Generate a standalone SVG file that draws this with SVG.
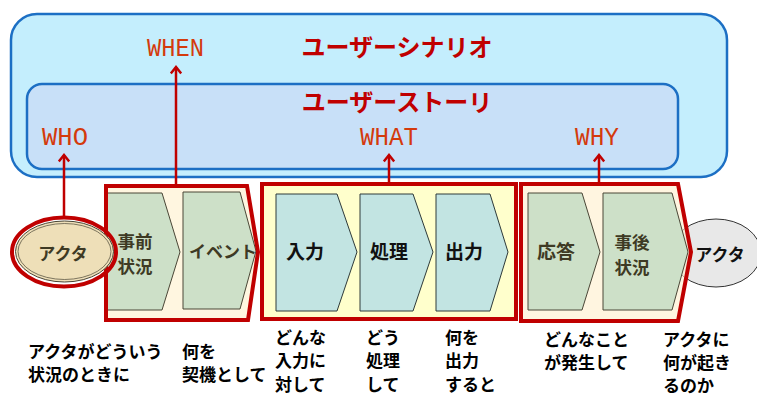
<svg xmlns="http://www.w3.org/2000/svg" width="757" height="396" viewBox="0 0 757 396">
<defs>
<style>
.jp{font-family:"Noto Sans CJK JP","Noto Sans",sans-serif;font-weight:bold}
.title{font-size:24px;fill:#C00000;text-anchor:middle}
.w{font-family:"Liberation Mono","DejaVu Sans Mono",monospace;font-size:25px;fill:#D43A0C}
.frame{stroke:#1C6FC4;stroke-width:2.5}
.red{fill:none;stroke:#C00000;stroke-width:4;stroke-linejoin:miter}
.chg{fill:#CDE0C8;stroke:#4A4636;stroke-width:1}
.chb{fill:#C2E4E2;stroke:#2E3A3A;stroke-width:1}
.lbl{font-size:19px;text-anchor:middle}
.two{font-size:17.5px}
.kat{font-size:17px}
.olive{fill:#3E3A24}
.blk{fill:#111}
.desc{font-size:17px;fill:#000}
.arr{fill:none;stroke:#C00000;stroke-width:2.5}
</style>
<marker id="ah" viewBox="0 0 12 12" refX="8" refY="6" markerWidth="12" markerHeight="12" orient="auto" markerUnits="userSpaceOnUse">
<path d="M1.5,0.8 L8,6 L1.5,11.2" fill="none" stroke="#C00000" stroke-width="2.5"/>
</marker>
</defs>
<rect width="757" height="396" fill="#FFFFFF"/>

<g id="scenario">
<rect class="frame" x="11" y="14" width="716" height="163" rx="26" fill="#C4EEFD"/>
<text class="jp title" x="397" y="56">ユーザーシナリオ</text>
<text class="w" x="147" y="56" textLength="57" lengthAdjust="spacingAndGlyphs">WHEN</text>
</g>

<g id="story">
<rect class="frame" x="27" y="84" width="651" height="85" rx="15" fill="#C8E0F8"/>
<text class="jp title" x="397" y="111">ユーザーストーリ</text>
<text class="w" x="42" y="145" textLength="46" lengthAdjust="spacingAndGlyphs">WHO</text>
<text class="w" x="360" y="145" textLength="58" lengthAdjust="spacingAndGlyphs">WHAT</text>
<text class="w" x="575" y="145" textLength="44" lengthAdjust="spacingAndGlyphs">WHY</text>
</g>

<g id="actor-right">
<ellipse cx="716" cy="253" rx="45" ry="34" fill="#E8E8E8" stroke="#333" stroke-width="1"/>
</g>

<g id="group-when">
<polygon points="106,186 247,186 258,252 248,320 106,320" fill="#FFF6E0"/>
<polygon class="chg" points="106,193 162,193 180,252 162,310 106,310"/>
<polygon class="chg" points="183,192 240,192 256,251 240,309 183,309"/>
<polygon class="red" points="106,186 247,186 258,252 248,320 106,320"/>
</g>

<g id="group-what">
<rect x="262" y="184" width="254" height="135" fill="#FFFFCC"/>
<polygon class="chb" points="276,194 337,194 357,252 337,311 276,311"/>
<polygon class="chb" points="360,194 413,194 433,252 413,311 360,311"/>
<polygon class="chb" points="436,194 490,194 508,252 490,311 436,311"/>
<rect class="red" x="262" y="184" width="254" height="135"/>
</g>

<g id="group-why">
<polygon points="521,184 678,184 691,252 678,321 521,321" fill="#FFF0D0" fill-opacity="0.65"/>
<polygon class="chg" points="528,193 582,193 600,252 582,310 528,310"/>
<polygon class="chg" points="603,193 672,193 688,252 672,310 603,310"/>
<polygon class="red" points="521,184 678,184 691,252 678,321 521,321"/>
</g>

<g id="actor-left">
<ellipse cx="64.5" cy="251.5" rx="49" ry="30.5" fill="#EEDFB8" stroke="#4A4636" stroke-width="1"/>
<ellipse cx="64.5" cy="251.5" rx="46.5" ry="28" fill="none" stroke="#4A4636" stroke-width="0.7"/>
<ellipse cx="64" cy="252" rx="52" ry="34.5" fill="none" stroke="#C00000" stroke-width="4"/>
<text class="jp lbl kat olive" x="63" y="260">アクタ</text>
</g>

<g id="labels">
<text class="jp lbl two olive" x="135" y="248">事前<tspan x="135" dy="25">状況</tspan></text>
<text class="jp lbl kat olive" x="223" y="258">イベント</text>
<text class="jp lbl blk" x="305" y="259">入力</text>
<text class="jp lbl blk" x="389" y="259">処理</text>
<text class="jp lbl blk" x="464" y="259">出力</text>
<text class="jp lbl olive" x="556" y="259">応答</text>
<text class="jp lbl two olive" x="632" y="249">事後<tspan x="632" dy="25">状況</tspan></text>
<text class="jp lbl kat blk" x="720" y="261">アクタ</text>
</g>

<g id="connectors">
<line class="arr" x1="64" y1="217" x2="64" y2="155" marker-end="url(#ah)"/>
<line class="arr" x1="176" y1="184" x2="176" y2="67" marker-end="url(#ah)"/>
<line class="arr" x1="389" y1="182" x2="389" y2="155" marker-end="url(#ah)"/>
<line class="arr" x1="599" y1="182" x2="599" y2="155" marker-end="url(#ah)"/>
</g>

<g id="descriptions" class="jp desc">
<text x="28" y="358">アクタがどういう</text>
<text x="28" y="381">状況のときに</text>
<text x="182" y="358">何を</text>
<text x="182" y="381">契機として</text>
<text x="275" y="344">どんな</text>
<text x="275" y="367">入力に</text>
<text x="275" y="391">対して</text>
<text x="366" y="344">どう</text>
<text x="366" y="367">処理</text>
<text x="366" y="391">して</text>
<text x="445" y="344">何を</text>
<text x="445" y="367">出力</text>
<text x="445" y="391">すると</text>
<text x="544" y="346">どんなこと</text>
<text x="544" y="369">が発生して</text>
<text x="663" y="346">アクタに</text>
<text x="663" y="369">何が起き</text>
<text x="663" y="392">るのか</text>
</g>
</svg>
